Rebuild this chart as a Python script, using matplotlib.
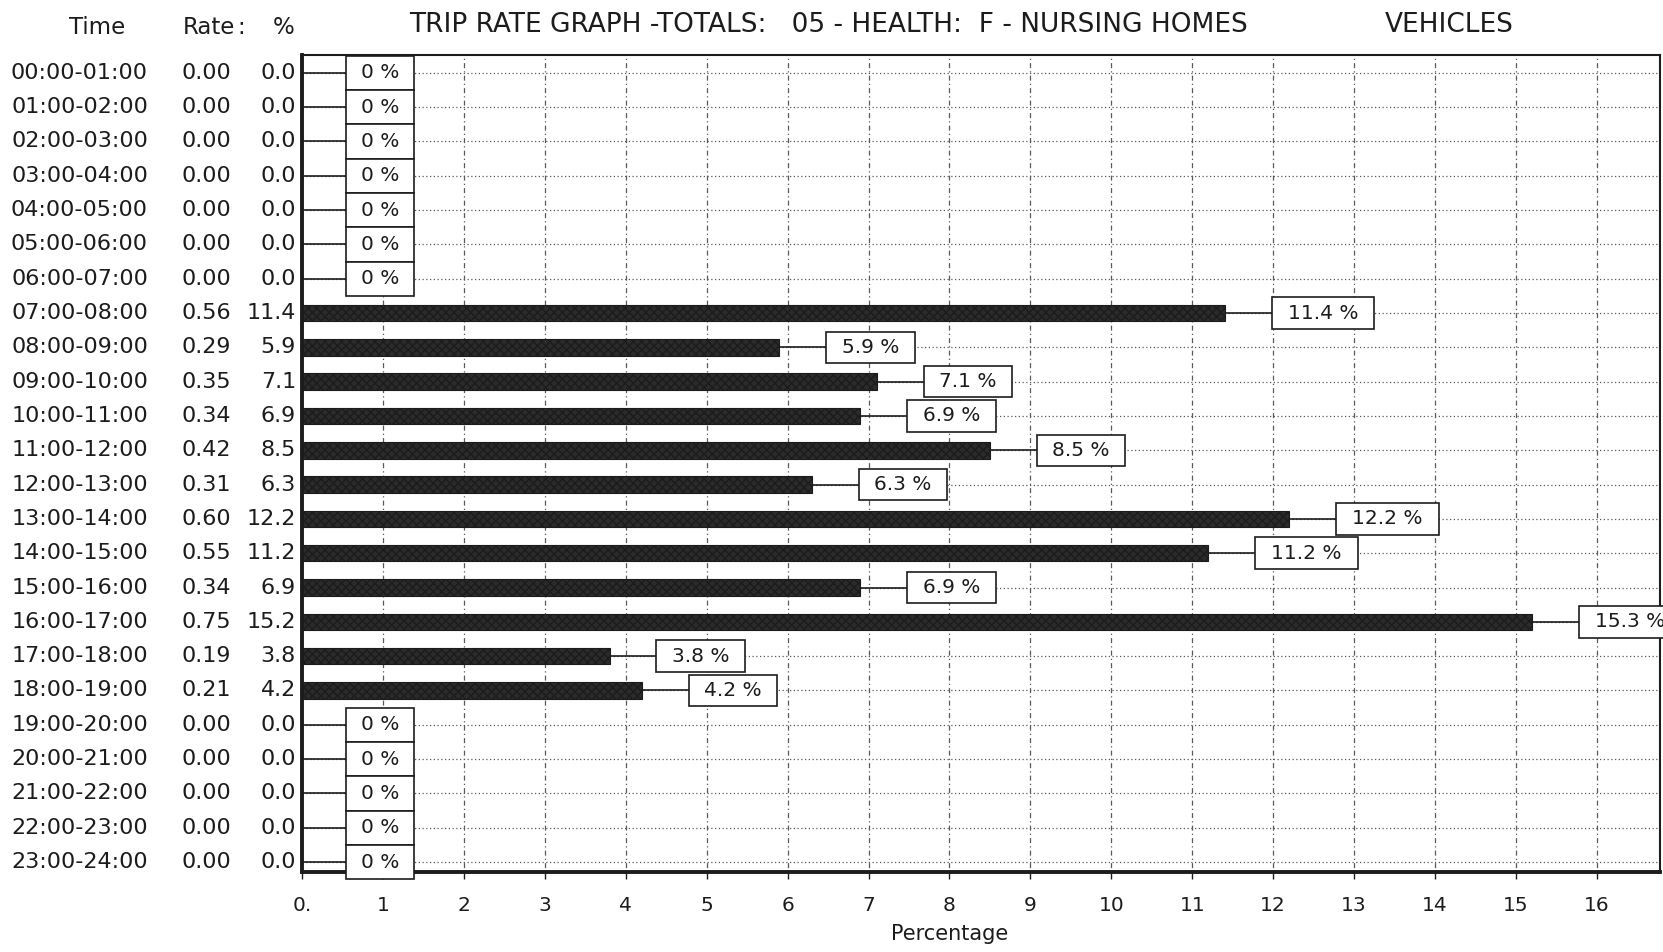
import matplotlib
matplotlib.use("Agg")
import matplotlib.pyplot as plt
from matplotlib.patches import Rectangle
from matplotlib.transforms import blended_transform_factory

plt.rcParams['font.family'] = ['DejaVu Sans']

time_labels = ["00:00-01:00", "01:00-02:00", "02:00-03:00", "03:00-04:00",
               "04:00-05:00", "05:00-06:00", "06:00-07:00", "07:00-08:00",
               "08:00-09:00", "09:00-10:00", "10:00-11:00", "11:00-12:00",
               "12:00-13:00", "13:00-14:00", "14:00-15:00", "15:00-16:00",
               "16:00-17:00", "17:00-18:00", "18:00-19:00", "19:00-20:00",
               "20:00-21:00", "21:00-22:00", "22:00-23:00", "23:00-24:00"]
rates = [0.00, 0.00, 0.00, 0.00, 0.00, 0.00, 0.00, 0.56, 0.29, 0.35, 0.34, 0.42,
         0.31, 0.60, 0.55, 0.34, 0.75, 0.19, 0.21, 0.00, 0.00, 0.00, 0.00, 0.00]
percents = [0.0, 0.0, 0.0, 0.0, 0.0, 0.0, 0.0, 11.4, 5.9, 7.1, 6.9, 8.5,
            6.3, 12.2, 11.2, 6.9, 15.2, 3.8, 4.2, 0.0, 0.0, 0.0, 0.0, 0.0]
box_labels = ["0 %", "0 %", "0 %", "0 %", "0 %", "0 %", "0 %", "11.4 %", "5.9 %",
              "7.1 %", "6.9 %", "8.5 %", "6.3 %", "12.2 %", "11.2 %", "6.9 %",
              "15.3 %", "3.8 %", "4.2 %", "0 %", "0 %", "0 %", "0 %", "0 %"]
x_ticks = list(range(17))
x_tick_labels = ["0.", "1", "2", "3", "4", "5", "6", "7", "8", "9", "10",
                 "11", "12", "13", "14", "15", "16"]
title_main = "TRIP RATE GRAPH -TOTALS:   05 - HEALTH:  F - NURSING HOMES"
title_right = "VEHICLES"

W, H = 1663, 952
fig = plt.figure(figsize=(W / 100, H / 100), dpi=100)

def fx(x):
    return x / W

def fy(y):
    return 1 - y / H

ax = fig.add_axes([fx(302), fy(872), fx(1660) - fx(302), fy(55) - fy(872)])
n = len(time_labels)
ax.set_xlim(0, 16.78)
ax.set_ylim(23.29, -0.52)

ink = "#1c1c1c"
gridc = "#5a5a5a"

# grid
for xv in x_ticks:
    ax.axvline(xv, color=gridc, lw=0.9, ls=(0, (1, 2.5, 4, 2.5)), zorder=0)
for i in range(n):
    ax.axhline(i, color=gridc, lw=0.9, ls=(0, (1, 2)), zorder=0)

rows = list(range(n))
ax.barh(rows, percents, height=0.48, color="#2b2b2b", edgecolor=ink,
        linewidth=0.8, hatch="xxxx", zorder=2)

for i, (p, lab) in enumerate(zip(percents, box_labels)):
    if p == 0:
        gap, w, h = 0.54, 0.84, 1.0
    else:
        gap = 0.58
        w = 1.27 if len(lab) >= 6 else 1.09
        h = 0.92
    x0 = p + gap
    ax.plot([p, x0], [i, i], color=ink, lw=1.2, zorder=3, clip_on=False)
    ax.add_patch(Rectangle((x0, i - h / 2), w, h, facecolor="white",
                           edgecolor=ink, lw=1.2, zorder=4, clip_on=False))
    ax.text(x0 + w / 2, i, lab, ha="center", va="center", fontsize=14.5,
            color=ink, zorder=5, clip_on=False)

for side in ["left", "bottom"]:
    ax.spines[side].set_linewidth(2.8)
    ax.spines[side].set_color(ink)
for side in ["top", "right"]:
    ax.spines[side].set_linewidth(1.5)
    ax.spines[side].set_color(ink)

ax.set_xticks(x_ticks)
ax.set_xticklabels(x_tick_labels, fontsize=14.5, color=ink)
ax.tick_params(axis="x", length=5, width=1, color=ink, pad=12)
ax.set_yticks([])

# left-hand table
tr = blended_transform_factory(fig.transFigure, ax.transData)
for i in range(n):
    fig.text(fx(148), i, time_labels[i], transform=tr, ha="right", va="center",
             fontsize=16, color=ink)
    fig.text(fx(231), i, f"{rates[i]:.2f}", transform=tr, ha="right",
             va="center", fontsize=16, color=ink)
    fig.text(fx(296), i, f"{percents[i]:.1f}", transform=tr, ha="right",
             va="center", fontsize=16, color=ink)

fig.text(fx(97), fy(27), "Time", ha="center", va="center", fontsize=16.5, color=ink)
fig.text(fx(183), fy(27), "Rate", ha="left", va="center", fontsize=16.5, color=ink)
fig.text(fx(241), fy(27), ":", ha="center", va="center", fontsize=16.5, color=ink)
fig.text(fx(284), fy(27), "%", ha="center", va="center", fontsize=16.5, color=ink)

fig.text(fx(409), fy(25), title_main, ha="left", va="center", fontsize=19,
         color=ink)
fig.text(fx(1385), fy(25), title_right, ha="left", va="center", fontsize=19,
         color=ink)

fig.text(fx(950), fy(934), "Percentage", ha="center", va="center", fontsize=15,
         color=ink)

fig.savefig("out.png", dpi=100, facecolor="white")
